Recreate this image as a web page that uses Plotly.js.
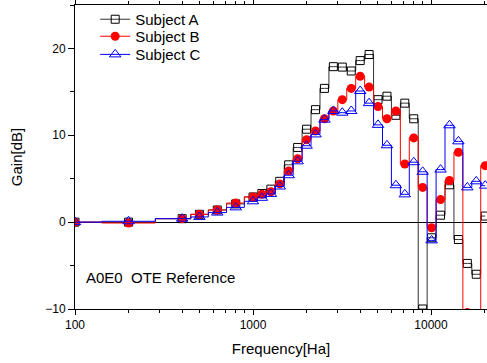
<!DOCTYPE html>
<html>
<head>
<meta charset="utf-8">
<script src="https://cdn.plot.ly/plotly-3.0.1.min.js"></script>
<style>html,body{margin:0;padding:0;background:#fff;}#chart{width:487px;height:363px;}</style>
</head>
<body>
<div id="chart"></div>
<script>
const freqs = [100, 200, 400, 500, 630, 800, 1000, 1122, 1260, 1414, 1587, 1782, 2000, 2245, 2520, 2828, 3175, 3564, 4000, 4490, 5040, 5657, 6350, 7127, 8000, 8980, 10079, 11314, 12699, 14254, 16000, 17959, 20159];
const subjectA = [0, 0, 0.4, 0.9, 1.4, 2.1, 2.9, 3.3, 3.8, 4.7, 6.6, 8.6, 10.7, 12.95, 15.4, 17.9, 17.85, 17.4, 18.6, 19.3, 14.1, 14.5, 12.3, 13.7, 11.9, -10, -1.8, 0.8, 4.3, -2.0, -4.75, -6.0, 0.7];
const subjectB = [0, -0.1, 0.4, 0.9, 1.4, 2.2, 2.9, 3.2, 3.5, 4.4, 5.9, 7.3, 9.5, 10.5, 11.9, 12.8, 14.1, 15.4, 16.8, 15.55, 13.3, 11.9, 12.8, 6.7, 9.7, 4.0, -0.65, 2.6, 4.8, 8.05, -10.4, -12, 6.5];
const subjectC = [0, 0.1, 0.4, 0.6, 1.1, 1.7, 2.4, 2.8, 3.25, 4.1, 5.4, 7.0, 8.8, 10.1, 11.8, 12.8, 12.6, 12.8, 15.1, 13.7, 11.2, 8.85, 4.25, 3.2, 6.9, 5.8, -2.1, 6.05, 11.15, 9.3, 4.0, 4.7, 4.2];
const seriesNames = ['Subject A', 'Subject B', 'Subject C'];
const xTickVals = [100, 1000, 10000];
const xTickText = ['100', '1000', '10000'];
const yTickVals = [-10, 0, 10, 20];
const annotationText = 'A0E0  OTE Reference';

const FONT = 'Liberation Sans, Arial, sans-serif';

const traces = [
  {x: freqs, y: subjectA, name: seriesNames[0], type: 'scatter', mode: 'lines+markers', legend: 'legend',
   line: {shape: 'hvh', color: '#333', width: 1},
   marker: {symbol: 'square-open', size: 8, color: '#000', line: {width: 1, color: '#000'}}},
  {x: freqs, y: subjectB, name: seriesNames[1], type: 'scatter', mode: 'lines+markers', legend: 'legend2',
   line: {shape: 'hvh', color: '#ff0000', width: 1},
   marker: {symbol: 'circle', size: 9, color: '#ff0000'}},
  {x: freqs, y: subjectC, name: seriesNames[2], type: 'scatter', mode: 'lines+markers', legend: 'legend3',
   line: {shape: 'hvh', color: '#0000ff', width: 1},
   marker: {symbol: 'triangle-up-open', size: 10, color: '#0000ff', line: {width: 1, color: '#0000ff'}}}
];

function leg(y) {
  return {x: 0.049, y: y, xanchor: 'left', yanchor: 'top', bgcolor: 'rgba(0,0,0,0)',
          font: {family: FONT, size: 15, color: '#000'}};
}

const layout = {
  width: 487, height: 363,
  margin: {l: 75, r: 0, t: 5, b: 54},
  paper_bgcolor: '#fff', plot_bgcolor: '#fff',
  font: {family: FONT, size: 12, color: '#000'},
  showlegend: true,
  legend: leg(1.0066),
  legend2: leg(0.9507),
  legend3: leg(0.891),
  xaxis: {
    type: 'log', range: [2, 4.3146],
    showline: true, linecolor: '#000', linewidth: 1, mirror: 'ticks',
    ticks: 'outside', ticklen: 5, tickcolor: '#000',
    tickvals: xTickVals, ticktext: xTickText,
    minor: {ticks: 'outside', ticklen: 3, tickcolor: '#000', dtick: 'D1', showgrid: false},
    showgrid: false, zeroline: false,
    tickfont: {family: FONT, size: 12, color: '#000'},
    title: {text: 'Frequency[Ha]', font: {family: FONT, size: 15, color: '#000'}, standoff: 12}
  },
  yaxis: {
    range: [-10, 25],
    showline: true, linecolor: '#000', linewidth: 1, mirror: false,
    ticks: 'outside', ticklen: 6, tickcolor: '#000',
    tickvals: yTickVals,
    minor: {ticks: 'outside', ticklen: 4, tickcolor: '#000', dtick: 5, tick0: 0, showgrid: false},
    showgrid: false, zeroline: true, zerolinecolor: '#000', zerolinewidth: 1,
    tickfont: {family: FONT, size: 12, color: '#000'},
    title: {text: 'Gain[dB]', font: {family: FONT, size: 15, color: '#000'}, standoff: 18}
  },
  annotations: [
    {text: annotationText, xref: 'paper', yref: 'paper', x: 0.022, y: 0.102, xanchor: 'left', yanchor: 'middle',
     showarrow: false, font: {family: FONT, size: 15, color: '#000'}}
  ]
};

Plotly.newPlot('chart', traces, layout, {displayModeBar: false, staticPlot: true});
</script>
</body>
</html>
